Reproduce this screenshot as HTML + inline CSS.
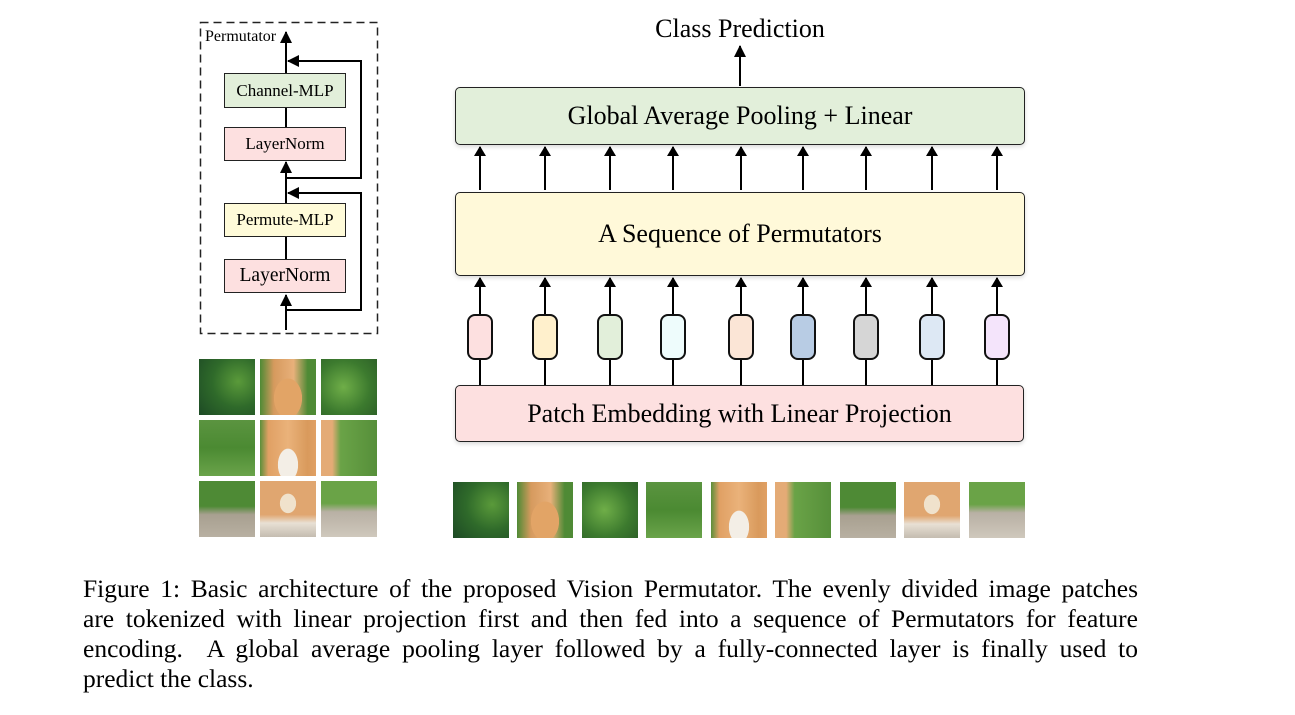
<!DOCTYPE html>
<html><head><meta charset="utf-8"><style>
body{margin:0;width:1295px;height:715px;background:#fff;position:relative;overflow:hidden;font-family:"Liberation Serif",serif;}
.a{position:absolute;}
.box{position:absolute;border:1.5px solid #222;border-radius:5px;box-sizing:border-box;display:flex;align-items:center;justify-content:center;box-shadow:0 2px 4px rgba(0,0,0,.15);font-size:26px;}
.sm{position:absolute;border:1.5px solid #222;box-sizing:border-box;display:flex;align-items:center;justify-content:center;font-size:17px;}
.tok{position:absolute;width:26px;height:46px;border:2px solid #111;border-radius:8px;box-sizing:border-box;top:314px;}
.t{position:absolute;width:56px;height:56px;}
.t1{background:radial-gradient(circle at 70% 40%,#5a9a3a,#2f6a2a 50%,#1d4a25);}
.t2{background:radial-gradient(ellipse at 50% 70%,#e2a466 0 35%,transparent 36%),linear-gradient(90deg,#4f8a35,#d69a5e 25%,#e8b07a 60%,#4f8a35 85%);}
.t3{background:radial-gradient(circle at 40% 50%,#6fae48,#3c7a2e 60%,#2e6228);}
.t4{background:linear-gradient(180deg,#5b9440,#4b8a32 50%,#6aa34a);}
.t5{background:radial-gradient(ellipse at 50% 80%,#f3eee6 0 25%,transparent 26%),linear-gradient(90deg,#5b8f3a,#e0a064 15%,#eab27a 50%,#d99a5c 85%,#e0a064);}
.t6{background:linear-gradient(90deg,#e4ab76 0 20%,#6aa347 35%,#568f3a);}
.t7{background:linear-gradient(180deg,#4e8a35 0 45%,#a8a090 60%,#b8b0a2);}
.t8{background:radial-gradient(ellipse at 50% 40%,#f0e2cc 0 20%,transparent 21%),linear-gradient(180deg,#e0a670 0 60%,#e8e0d4 75%,#c4bcb0);}
.t9{background:linear-gradient(180deg,#6aa347 0 40%,#b8b0a4 55%,#cfc8bc);}
.cl{position:absolute;left:83px;width:1055px;font-size:25.5px;line-height:30px;white-space:nowrap;}
.j{text-align:justify;text-align-last:justify;white-space:normal;}
</style></head><body>
<svg class="a" style="left:0;top:0" width="1295" height="715">
<defs>
<marker id="ab" markerWidth="12" markerHeight="12" refX="11" refY="6" orient="auto" markerUnits="userSpaceOnUse"><path d="M0,0 L12,6 L0,12z" fill="#000"/></marker></defs>
<rect x="200.5" y="22.5" width="177" height="311" fill="none" stroke="#222" stroke-width="1.5" stroke-dasharray="8,5"/>
<g stroke="#000" stroke-width="2" fill="none">
<line x1="286" y1="330" x2="286" y2="295" marker-end="url(#ab)"/>
<line x1="286" y1="259" x2="286" y2="237"/>
<line x1="286" y1="203" x2="286" y2="162" marker-end="url(#ab)"/>
<line x1="286" y1="127" x2="286" y2="108"/>
<line x1="286" y1="73" x2="286" y2="32" marker-end="url(#ab)"/>
<polyline points="286,310 361,310 361,193 288,193" marker-end="url(#ab)"/>
<polyline points="286,178 361,178 361,61 288,61" marker-end="url(#ab)"/>
<line x1="740" y1="86" x2="740" y2="46" marker-end="url(#ab)"/>
</g>
</svg>
<div class="a" style="left:205px;top:28px;font-size:16px">Permutator</div>
<div class="sm" style="left:224px;top:73px;width:122px;height:35px;background:#e2efda">Channel-MLP</div>
<div class="sm" style="left:224px;top:127px;width:122px;height:34px;background:#fde0e0">LayerNorm</div>
<div class="sm" style="left:224px;top:203px;width:122px;height:34px;background:#fffbd9">Permute-MLP</div>
<div class="sm" style="left:224px;top:259px;width:122px;height:34px;background:#fde0e0;font-size:19.5px">LayerNorm</div>

<div class="a" style="left:590px;top:14px;width:300px;text-align:center;font-size:26px">Class Prediction</div>
<div class="box" style="left:455px;top:87px;width:570px;height:58px;background:#e2efda">Global Average Pooling + Linear</div>
<div class="box" style="left:455px;top:192px;width:570px;height:84px;background:#fff9d9">A Sequence of Permutators</div>
<div class="box" style="left:455px;top:385px;width:569px;height:57px;background:#fde0e0">Patch Embedding with Linear Projection</div>

<svg class="a" style="left:0;top:0" width="1295" height="715">
<defs><marker id="am" markerWidth="10" markerHeight="12" refX="9" refY="6" orient="auto" markerUnits="userSpaceOnUse"><path d="M0,0 L10,6 L0,12z" fill="#000"/></marker></defs>
<g stroke="#000" stroke-width="2" marker-end="url(#am)">
<line x1="480" y1="190" x2="480" y2="147"/><line x1="545" y1="190" x2="545" y2="147"/><line x1="610" y1="190" x2="610" y2="147"/><line x1="673" y1="190" x2="673" y2="147"/><line x1="741" y1="190" x2="741" y2="147"/><line x1="803" y1="190" x2="803" y2="147"/><line x1="866" y1="190" x2="866" y2="147"/><line x1="932" y1="190" x2="932" y2="147"/><line x1="997" y1="190" x2="997" y2="147"/>
<line x1="480" y1="314" x2="480" y2="278"/><line x1="545" y1="314" x2="545" y2="278"/><line x1="610" y1="314" x2="610" y2="278"/><line x1="673" y1="314" x2="673" y2="278"/><line x1="741" y1="314" x2="741" y2="278"/><line x1="803" y1="314" x2="803" y2="278"/><line x1="866" y1="314" x2="866" y2="278"/><line x1="932" y1="314" x2="932" y2="278"/><line x1="997" y1="314" x2="997" y2="278"/>
</g>
<g stroke="#000" stroke-width="2">
<line x1="480" y1="360" x2="480" y2="385"/><line x1="545" y1="360" x2="545" y2="385"/><line x1="610" y1="360" x2="610" y2="385"/><line x1="673" y1="360" x2="673" y2="385"/><line x1="741" y1="360" x2="741" y2="385"/><line x1="803" y1="360" x2="803" y2="385"/><line x1="866" y1="360" x2="866" y2="385"/><line x1="932" y1="360" x2="932" y2="385"/><line x1="997" y1="360" x2="997" y2="385"/>
</g>
</svg>
<div class="tok" style="left:467px;background:#fde0e0"></div>
<div class="tok" style="left:532px;background:#fff0cc"></div>
<div class="tok" style="left:597px;background:#e2efda"></div>
<div class="tok" style="left:660px;background:#eefcfc"></div>
<div class="tok" style="left:728px;background:#fbe5d6"></div>
<div class="tok" style="left:790px;background:#b8cce4"></div>
<div class="tok" style="left:853px;background:#d6d6d6"></div>
<div class="tok" style="left:919px;background:#dde8f4"></div>
<div class="tok" style="left:984px;background:#f4e4fb"></div>

<div class="t t1" style="left:199px;top:359px"></div><div class="t t2" style="left:260px;top:359px"></div><div class="t t3" style="left:321px;top:359px"></div>
<div class="t t4" style="left:199px;top:420px"></div><div class="t t5" style="left:260px;top:420px"></div><div class="t t6" style="left:321px;top:420px"></div>
<div class="t t7" style="left:199px;top:481px"></div><div class="t t8" style="left:260px;top:481px"></div><div class="t t9" style="left:321px;top:481px"></div>

<div class="t t1" style="left:453px;top:482px"></div><div class="t t2" style="left:517px;top:482px"></div><div class="t t3" style="left:582px;top:482px"></div>
<div class="t t4" style="left:646px;top:482px"></div><div class="t t5" style="left:711px;top:482px"></div><div class="t t6" style="left:775px;top:482px"></div>
<div class="t t7" style="left:840px;top:482px"></div><div class="t t8" style="left:904px;top:482px"></div><div class="t t9" style="left:969px;top:482px"></div>

<div class="cl j" style="top:574px">Figure 1: Basic architecture of the proposed Vision Permutator. The evenly divided image patches</div>
<div class="cl j" style="top:604px">are tokenized with linear projection first and then fed into a sequence of Permutators for feature</div>
<div class="cl j" style="top:634px">encoding. &nbsp;A global average pooling layer followed by a fully-connected layer is finally used to</div>
<div class="cl" style="top:664px">predict the class.</div>
</body></html>
